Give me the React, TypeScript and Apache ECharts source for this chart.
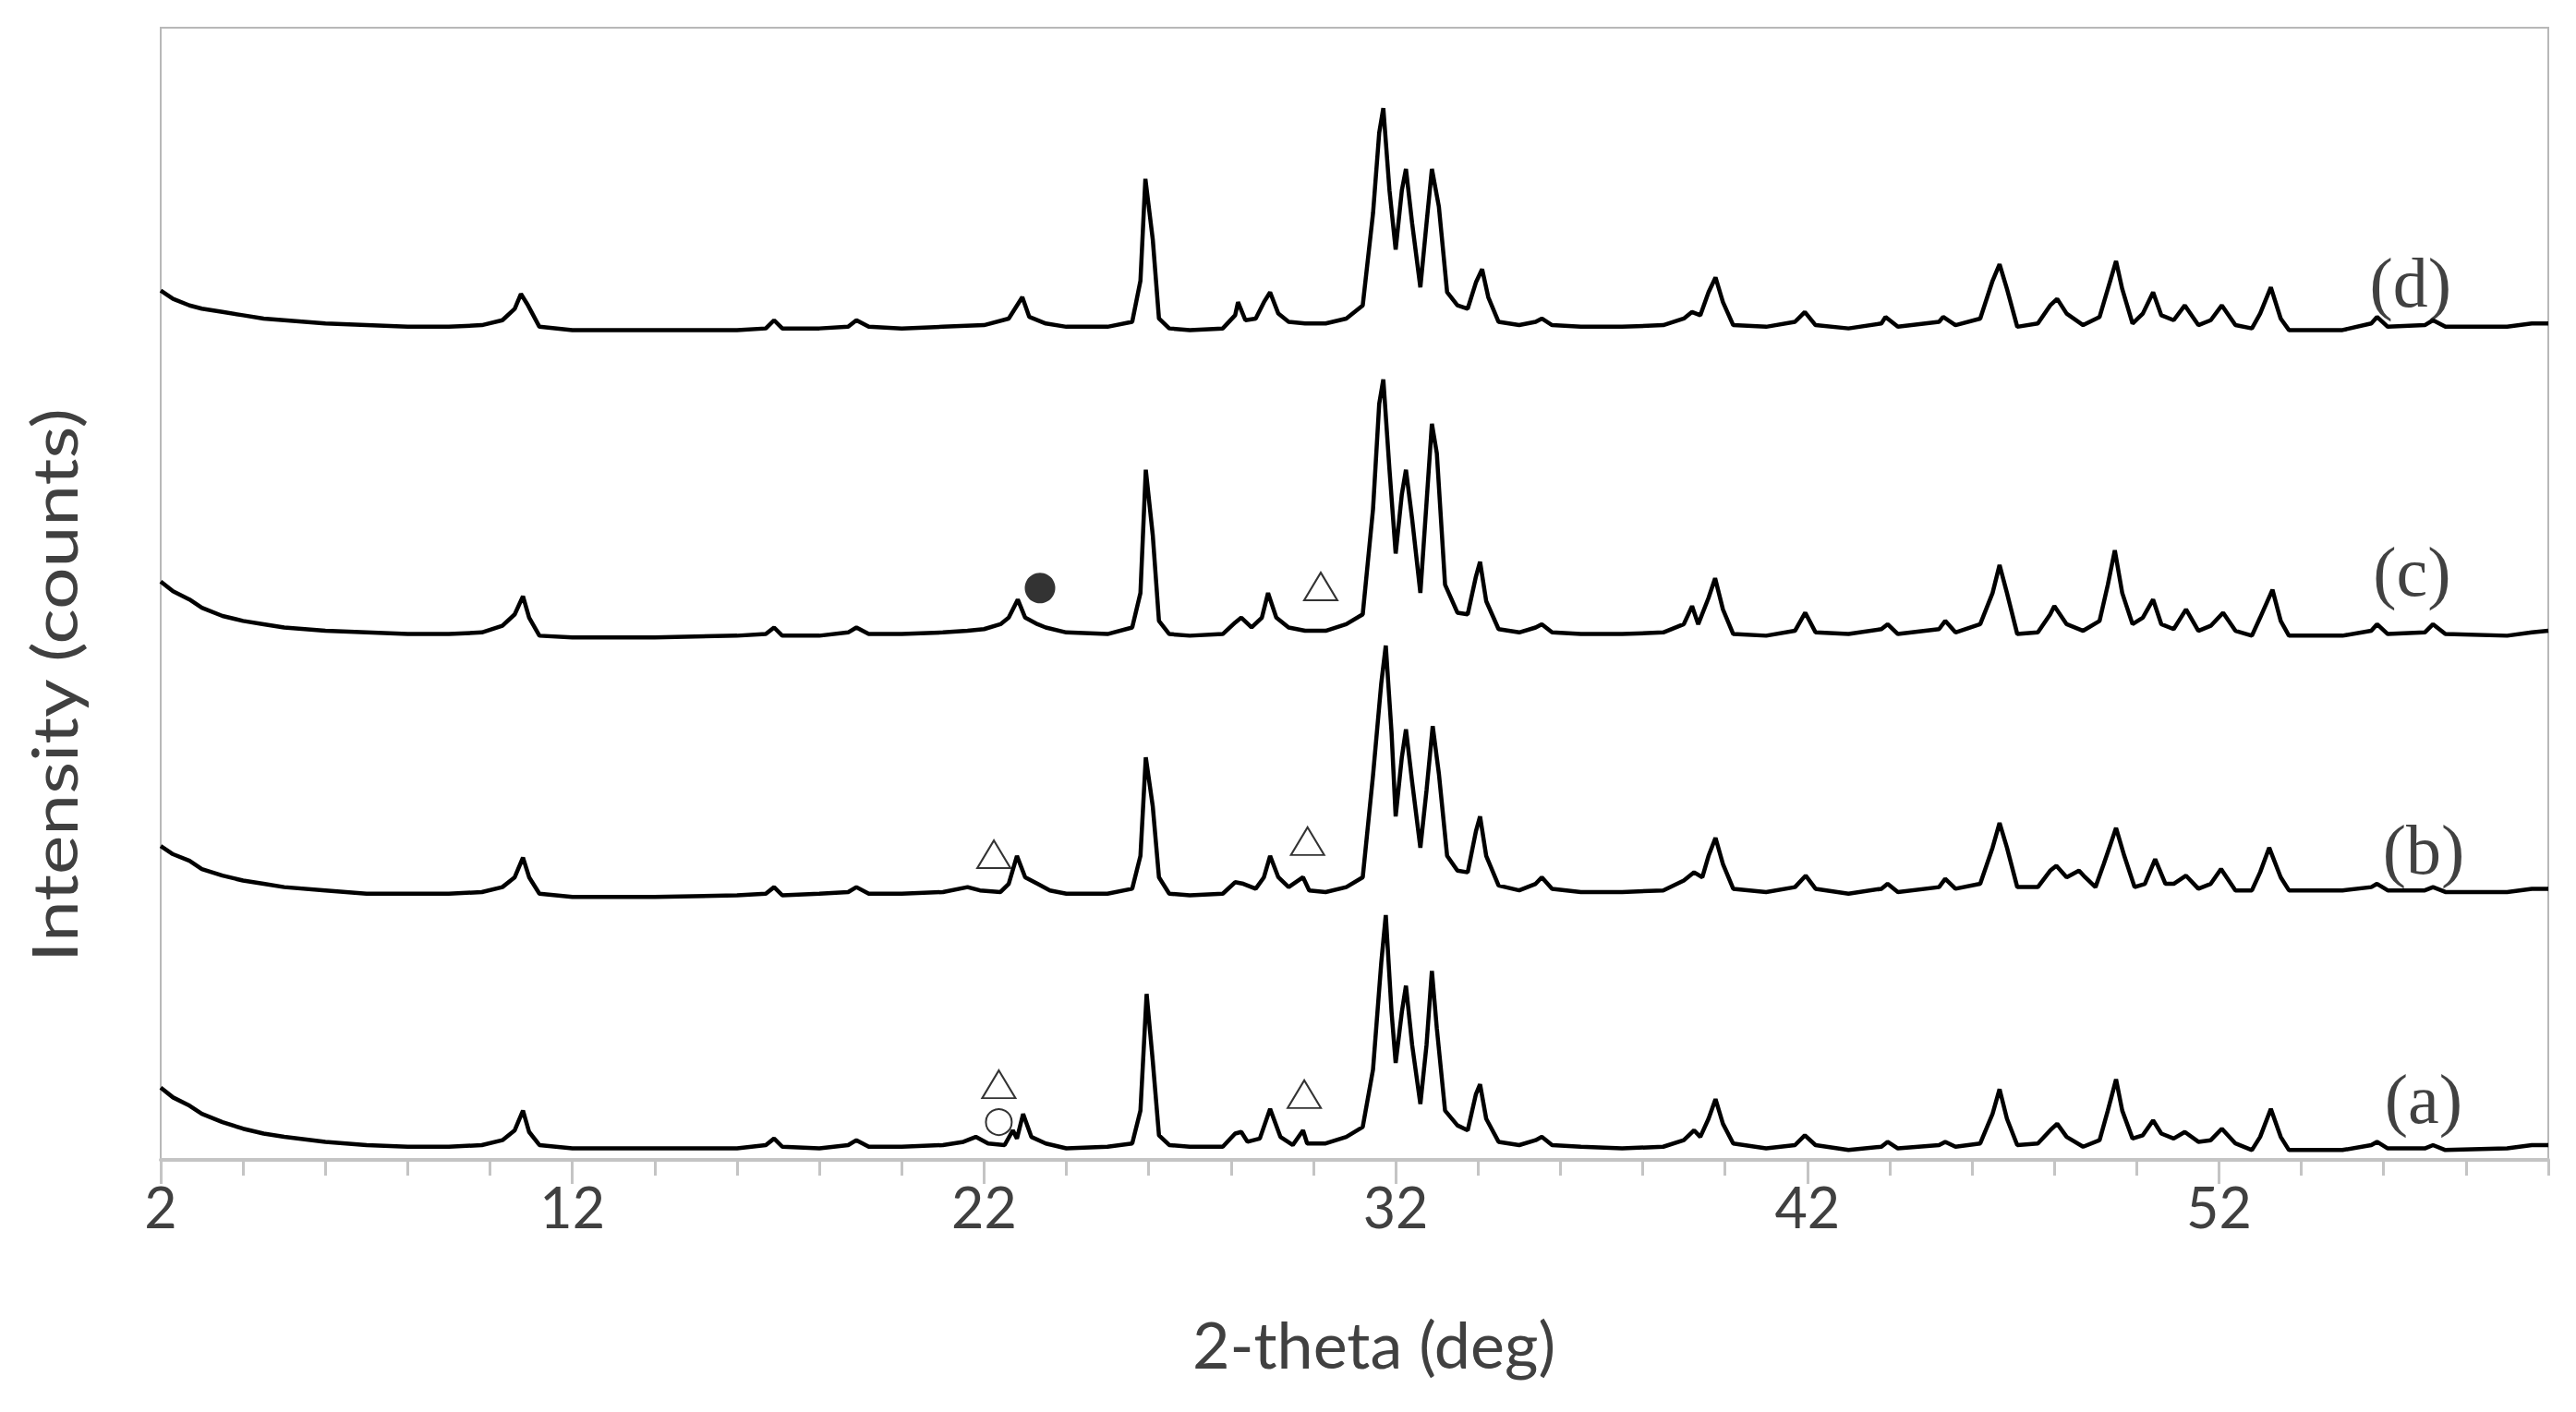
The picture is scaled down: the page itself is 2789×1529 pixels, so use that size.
import React, { useEffect, useRef } from "react";
import * as echarts from "echarts";

// ---- axis ----
const THETA_MIN = 2;
const THETA_MAX = 60;
const MAJOR_TICKS = [2, 12, 22, 32, 42, 52];
const COUNTS_MAX = 689;

// ---- traces: [2-theta (deg), intensity (a.u., stacked offsets)] ----
const traceA: [number, number][] = [
  [2.0, 44], [2.3, 38], [2.7, 33], [3.0, 28], [3.5, 23], [4.0, 19], [4.5, 16], [5.0, 14], [6.0, 11], [7.0, 9],
  [8.0, 8], [9.0, 8], [9.8, 9], [10.3, 12], [10.6, 18], [10.8, 30], [10.95, 17], [11.2, 9], [12.0, 7], [14.0, 7],
  [16.0, 7], [16.7, 9], [16.9, 13], [17.1, 8], [18.0, 7], [18.7, 9], [18.9, 12], [19.2, 8], [20.0, 8], [21.0, 9],
  [21.5, 11], [21.8, 14], [22.1, 10], [22.5, 9], [22.7, 18], [22.8, 13], [22.95, 28], [23.15, 14], [23.5, 10], [24.0, 7],
  [25.0, 8], [25.6, 10], [25.8, 30], [25.95, 101], [26.1, 60], [26.25, 15], [26.5, 9], [27.0, 8], [27.8, 8], [28.1, 16],
  [28.25, 17], [28.4, 11], [28.7, 13], [28.95, 31], [29.2, 14], [29.5, 9], [29.75, 18], [29.85, 10], [30.3, 10], [30.8, 14],
  [31.2, 20], [31.45, 55], [31.65, 120], [31.76, 149], [31.9, 90], [32.0, 59], [32.15, 90], [32.25, 106], [32.4, 70], [32.6, 34],
  [32.75, 70], [32.88, 115], [33.0, 80], [33.2, 30], [33.5, 21], [33.75, 18], [33.95, 40], [34.05, 46], [34.2, 25], [34.5, 11],
  [35.0, 9], [35.4, 12], [35.55, 14], [35.8, 9], [36.5, 8], [37.5, 7], [38.5, 8], [39.0, 12], [39.25, 18], [39.4, 14],
  [39.6, 25], [39.77, 37], [39.95, 22], [40.2, 10], [41.0, 7], [41.7, 9], [41.94, 15], [42.2, 9], [43.0, 6], [43.8, 8],
  [43.95, 11], [44.2, 7], [45.2, 9], [45.35, 11], [45.6, 8], [46.2, 10], [46.5, 28], [46.67, 43], [46.85, 25], [47.1, 9],
  [47.6, 10], [47.9, 18], [48.07, 22], [48.3, 14], [48.7, 8], [49.1, 12], [49.3, 30], [49.5, 49], [49.65, 30], [49.9, 13],
  [50.15, 15], [50.4, 24], [50.6, 16], [50.9, 13], [51.17, 17], [51.5, 11], [51.8, 12], [52.07, 19], [52.4, 10], [52.8, 6],
  [53.0, 14], [53.26, 31], [53.5, 14], [53.7, 6], [55.0, 6], [55.7, 9], [55.84, 11], [56.1, 7], [57.0, 7], [57.2, 9],
  [57.5, 6], [59.0, 7], [59.6, 9], [60.0, 9],
];

const traceB: [number, number][] = [
  [2.0, 191], [2.3, 186], [2.7, 182], [3.0, 177], [3.5, 173], [4.0, 170], [4.5, 168], [5.0, 166], [6.0, 164], [7.0, 162],
  [8.0, 162], [9.0, 162], [9.8, 163], [10.3, 166], [10.6, 172], [10.8, 184], [10.95, 172], [11.2, 162], [12.0, 160], [14.0, 160],
  [16.0, 161], [16.7, 162], [16.9, 166], [17.1, 161], [18.0, 162], [18.7, 163], [18.9, 166], [19.2, 162], [20.0, 162], [21.0, 163],
  [21.6, 166], [21.9, 164], [22.4, 163], [22.6, 168], [22.8, 185], [23.0, 172], [23.3, 168], [23.6, 164], [24.0, 162], [25.0, 162],
  [25.6, 165], [25.8, 185], [25.93, 245], [26.1, 215], [26.25, 172], [26.5, 162], [27.0, 161], [27.8, 162], [28.1, 169], [28.3, 168],
  [28.6, 165], [28.8, 172], [28.95, 185], [29.15, 172], [29.4, 166], [29.75, 172], [29.9, 164], [30.3, 163], [30.8, 166], [31.2, 172],
  [31.45, 234], [31.65, 290], [31.76, 313], [31.9, 260], [32.0, 209], [32.15, 245], [32.25, 262], [32.4, 230], [32.6, 190], [32.75, 225],
  [32.9, 264], [33.05, 235], [33.25, 185], [33.5, 176], [33.75, 175], [33.95, 200], [34.05, 209], [34.2, 185], [34.5, 167], [35.0, 164],
  [35.4, 168], [35.55, 172], [35.8, 165], [36.5, 163], [37.5, 163], [38.5, 164], [39.0, 170], [39.25, 175], [39.45, 172], [39.6, 185],
  [39.77, 196], [39.95, 180], [40.2, 165], [41.0, 163], [41.7, 166], [41.96, 173], [42.2, 165], [43.0, 162], [43.8, 165], [43.95, 168],
  [44.2, 163], [45.2, 166], [45.35, 171], [45.6, 165], [46.2, 168], [46.5, 190], [46.67, 205], [46.85, 190], [47.1, 166], [47.6, 166],
  [47.9, 176], [48.05, 179], [48.3, 172], [48.6, 176], [48.75, 172], [49.0, 166], [49.2, 180], [49.5, 202], [49.7, 185], [49.95, 166],
  [50.2, 168], [50.45, 183], [50.7, 168], [50.9, 168], [51.2, 173], [51.5, 165], [51.8, 168], [52.05, 177], [52.4, 164], [52.8, 164],
  [53.0, 175], [53.22, 190], [53.5, 172], [53.7, 164], [55.0, 164], [55.7, 166], [55.84, 168], [56.1, 164], [57.0, 164], [57.2, 166],
  [57.5, 163], [59.0, 163], [59.6, 165], [60.0, 165],
];

const traceC: [number, number][] = [
  [2.0, 352], [2.3, 346], [2.7, 341], [3.0, 336], [3.5, 331], [4.0, 328], [4.5, 326], [5.0, 324], [6.0, 322], [7.0, 321],
  [8.0, 320], [9.0, 320], [9.8, 321], [10.3, 325], [10.6, 332], [10.8, 343], [10.95, 330], [11.2, 319], [12.0, 318], [14.0, 318],
  [16.0, 319], [16.7, 320], [16.9, 324], [17.1, 319], [18.0, 319], [18.7, 321], [18.9, 324], [19.2, 320], [20.0, 320], [21.0, 321],
  [21.6, 322], [22.0, 323], [22.4, 326], [22.6, 330], [22.82, 341], [23.0, 330], [23.3, 326], [23.5, 324], [24.0, 321], [25.0, 320],
  [25.6, 324], [25.8, 345], [25.93, 420], [26.1, 380], [26.25, 328], [26.5, 320], [27.0, 319], [27.8, 320], [28.1, 327], [28.25, 330],
  [28.5, 324], [28.75, 330], [28.9, 345], [29.1, 330], [29.4, 324], [29.8, 322], [30.3, 322], [30.8, 326], [31.2, 332], [31.45, 396],
  [31.6, 460], [31.7, 475], [31.85, 420], [32.0, 369], [32.15, 405], [32.25, 420], [32.4, 390], [32.6, 345], [32.75, 400], [32.88, 448],
  [33.0, 430], [33.2, 350], [33.5, 333], [33.75, 332], [33.95, 355], [34.05, 364], [34.2, 340], [34.5, 323], [35.0, 321], [35.4, 324],
  [35.55, 326], [35.8, 321], [36.5, 320], [37.5, 320], [38.5, 321], [39.0, 326], [39.2, 337], [39.35, 326], [39.6, 342], [39.76, 354],
  [39.95, 335], [40.2, 320], [41.0, 319], [41.7, 322], [41.95, 333], [42.2, 321], [43.0, 320], [43.8, 323], [43.95, 326], [44.2, 320],
  [45.2, 323], [45.35, 328], [45.6, 321], [46.2, 326], [46.5, 345], [46.67, 362], [46.85, 345], [47.1, 320], [47.6, 321], [47.9, 332],
  [48.0, 337], [48.3, 326], [48.7, 322], [49.1, 328], [49.3, 350], [49.47, 371], [49.65, 345], [49.9, 326], [50.15, 330], [50.4, 341],
  [50.6, 326], [50.9, 323], [51.2, 335], [51.5, 322], [51.8, 325], [52.1, 333], [52.4, 322], [52.8, 319], [53.0, 330], [53.3, 347],
  [53.5, 328], [53.7, 319], [55.0, 319], [55.7, 322], [55.84, 326], [56.1, 320], [57.0, 321], [57.2, 326], [57.5, 320], [59.0, 319],
  [59.6, 321], [60.0, 322],
];

const traceD: [number, number][] = [
  [2.0, 529], [2.3, 524], [2.7, 520], [3.0, 518], [3.5, 516], [4.0, 514], [4.5, 512], [5.0, 511], [6.0, 509], [7.0, 508],
  [8.0, 507], [9.0, 507], [9.8, 508], [10.3, 511], [10.6, 518], [10.75, 527], [10.9, 521], [11.2, 507], [12.0, 505], [14.0, 505],
  [16.0, 505], [16.7, 506], [16.9, 511], [17.1, 506], [18.0, 506], [18.7, 507], [18.9, 511], [19.2, 507], [20.0, 506], [21.0, 507],
  [22.0, 508], [22.6, 512], [22.93, 525], [23.1, 513], [23.5, 509], [24.0, 507], [25.0, 507], [25.6, 510], [25.8, 535], [25.92, 597],
  [26.1, 560], [26.25, 512], [26.5, 506], [27.0, 505], [27.8, 506], [28.1, 514], [28.17, 522], [28.35, 511], [28.6, 512], [28.8, 522],
  [28.95, 528], [29.15, 515], [29.4, 510], [29.8, 509], [30.3, 509], [30.8, 512], [31.2, 520], [31.45, 576], [31.6, 625], [31.7, 640],
  [31.85, 590], [32.0, 554], [32.15, 590], [32.25, 603], [32.4, 570], [32.6, 531], [32.75, 570], [32.88, 603], [33.05, 580], [33.25, 528],
  [33.5, 520], [33.75, 518], [33.95, 534], [34.1, 542], [34.25, 525], [34.5, 510], [35.0, 508], [35.4, 510], [35.55, 512], [35.8, 508],
  [36.5, 507], [37.5, 507], [38.5, 508], [39.0, 512], [39.2, 516], [39.4, 514], [39.6, 528], [39.77, 537], [39.95, 522], [40.2, 508],
  [41.0, 507], [41.7, 510], [41.94, 516], [42.2, 508], [43.0, 506], [43.8, 509], [43.9, 513], [44.2, 507], [45.2, 510], [45.3, 513],
  [45.6, 508], [46.2, 512], [46.5, 535], [46.67, 545], [46.85, 530], [47.1, 507], [47.6, 509], [47.9, 520], [48.07, 524], [48.3, 515],
  [48.7, 508], [49.1, 513], [49.3, 530], [49.5, 547], [49.65, 530], [49.9, 509], [50.15, 515], [50.4, 528], [50.6, 514], [50.9, 511],
  [51.17, 520], [51.5, 508], [51.8, 511], [52.07, 520], [52.4, 508], [52.8, 506], [53.0, 515], [53.26, 531], [53.5, 512], [53.7, 505],
  [55.0, 505], [55.7, 509], [55.84, 513], [56.1, 507], [57.0, 508], [57.2, 511], [57.5, 507], [59.0, 507], [59.6, 509], [60.0, 509],
];

// ---- trace labels ----
const TRACE_NAMES = ["(a)", "(b)", "(c)", "(d)"];
const LABEL_THETA = [56.97, 56.97, 56.69, 56.65];
const LABEL_COUNTS = [37, 189, 358, 534];

// ---- phase markers ----
const TRIANGLE_THETA = [22.36, 29.78, 22.24, 29.86, 30.18];
const TRIANGLE_COUNTS = [46, 40, 186, 194, 349];
const OPEN_CIRCLE_THETA = [22.36];
const OPEN_CIRCLE_COUNTS = [23];
const FILLED_CIRCLE_THETA = [23.36];
const FILLED_CIRCLE_COUNTS = [348];

const zip = (xs: number[], ys: number[]) => xs.map((x, i) => [x, ys[i]]);

const SANS = "Lato, 'Open Sans', sans-serif";
const SERIF = "'Liberation Serif', 'Times New Roman', serif";
const AXIS_GRAY = "#c4c4c4";

export default function App() {
  const ref = useRef<HTMLDivElement>(null);

  useEffect(() => {
    document.body.style.margin = "0";
    if (!ref.current) return;
    const chart = echarts.init(ref.current, undefined, { renderer: "svg" });

    const lineSeries = [traceA, traceB, traceC, traceD].map((d, i) => ({
      type: "line",
      name: TRACE_NAMES[i],
      data: d,
      xAxisIndex: 0,
      yAxisIndex: 0,
      showSymbol: false,
      symbol: "none",
      lineStyle: { color: "#000", width: 4.5 },
      z: 3,
    }));

    chart.setOption({
      animation: false,
      backgroundColor: "#fff",
      grid: {
        left: 174,
        right: 30,
        top: 30,
        bottom: 273,
        show: true,
        borderColor: "#b8b8b8",
        borderWidth: 2,
        containLabel: false,
      },
      xAxis: [
        {
          type: "value",
          min: THETA_MIN,
          max: THETA_MAX,
          interval: 10,
          position: "bottom",
          offset: 0,
          name: "2-theta (deg)",
          nameLocation: "middle",
          nameGap: 164,
          nameTextStyle: { fontFamily: SANS, fontSize: 70, color: "#404040", padding: [0, 0, 0, 42] },
          axisLine: { show: true, onZero: false, lineStyle: { color: AXIS_GRAY, width: 4 } },
          axisTick: { show: true, customValues: MAJOR_TICKS, length: 26, lineStyle: { color: AXIS_GRAY, width: 3 } },
          axisLabel: {
            show: true,
            customValues: MAJOR_TICKS,
            margin: 20,
            fontFamily: SANS,
            fontSize: 61,
            color: "#404040",
          },
          splitLine: { show: false },
        },
        {
          type: "value",
          min: THETA_MIN,
          max: THETA_MAX,
          interval: 2,
          position: "bottom",
          offset: 0,
          axisLine: { show: false },
          axisTick: { show: true, length: 17, lineStyle: { color: AXIS_GRAY, width: 3 } },
          axisLabel: { show: false },
          splitLine: { show: false },
        },
      ],
      yAxis: {
        type: "value",
        min: 0,
        max: COUNTS_MAX,
        show: false,
        splitLine: { show: false },
      },
      graphic: [
        {
          type: "text",
          x: 58,
          y: 742,
          rotation: Math.PI / 2,
          scaleX: 1.2,
          style: {
            text: "Intensity (counts)",
            fontFamily: SANS,
            fontSize: 67,
            fill: "#404040",
            align: "center",
            verticalAlign: "middle",
            textAlign: "center",
            textVerticalAlign: "middle",
          },
        },
      ],
      series: [
        ...lineSeries,
        {
          type: "scatter",
          name: "triangle",
          data: zip(TRIANGLE_THETA, TRIANGLE_COUNTS),
          symbol: "triangle",
          symbolSize: [36, 30],
          itemStyle: { color: "rgba(255,255,255,0)", borderColor: "#000", borderWidth: 2 },
          z: 5,
        },
        {
          type: "scatter",
          name: "open circle",
          data: zip(OPEN_CIRCLE_THETA, OPEN_CIRCLE_COUNTS),
          symbol: "circle",
          symbolSize: 28,
          itemStyle: { color: "rgba(255,255,255,0)", borderColor: "#000", borderWidth: 2 },
          z: 5,
        },
        {
          type: "scatter",
          name: "filled circle",
          data: zip(FILLED_CIRCLE_THETA, FILLED_CIRCLE_COUNTS),
          symbol: "circle",
          symbolSize: 33,
          itemStyle: { color: "#000" },
          z: 5,
        },
        {
          type: "scatter",
          name: "labels",
          data: TRACE_NAMES.map((n, i) => ({ name: n, value: [LABEL_THETA[i], LABEL_COUNTS[i]] })),
          symbolSize: 1,
          itemStyle: { color: "rgba(0,0,0,0)" },
          label: {
            show: true,
            position: "inside",
            formatter: "{b}",
            fontFamily: SERIF,
            fontSize: 76,
            color: "#111",
          },
          z: 6,
        },
      ],
    });

    return () => chart.dispose();
  }, []);

  return <div ref={ref} style={{ width: 2789, height: 1529 }} />;
}
